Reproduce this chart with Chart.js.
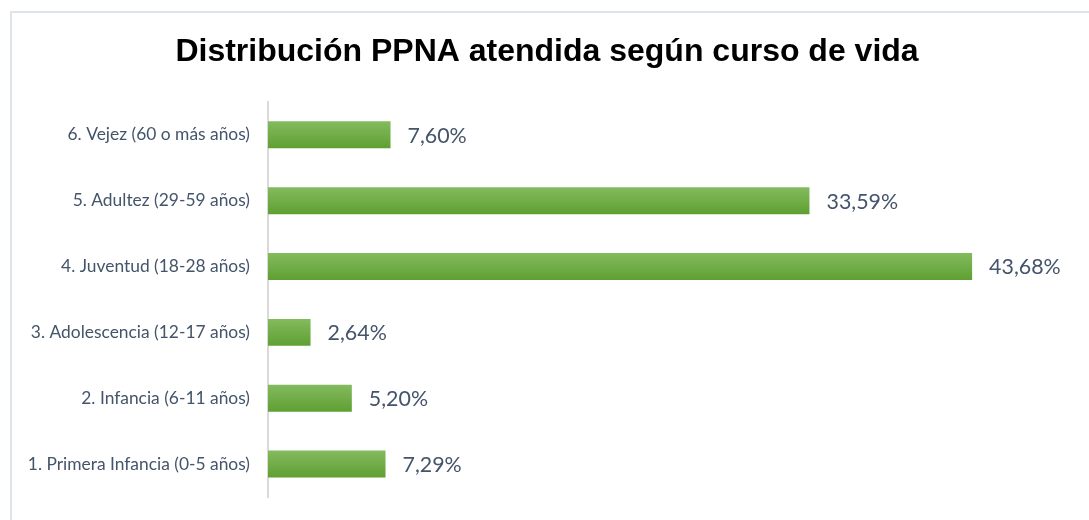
<!DOCTYPE html>
<html>
<head>
<meta charset="utf-8">
<script src="https://cdn.jsdelivr.net/npm/chart.js@4/dist/chart.umd.min.js"></script>
<style>
  body { margin: 0; background: #fff; overflow: hidden; }
  #frame { position: absolute; left: 10px; top: 11px; width: 1200px; height: 600px; border-top: 2px solid #dfe4ea; border-left: 2px solid #dfe4ea; }
  #wrap { position: absolute; left: 0; top: 0; width: 1089px; height: 520px; }
</style>
</head>
<body>
<div id="frame"></div>
<div id="wrap"><canvas id="chart" width="1089" height="520"></canvas></div>
<script>
// categories, top to bottom
const categories = [
  '6. Vejez (60 o más años)',
  '5. Adultez (29-59 años)',
  '4. Juventud (18-28 años)',
  '3. Adolescencia (12-17 años)',
  '2. Infancia (6-11 años)',
  '1. Primera Infancia (0-5 años)'
];
const percentages = [7.60, 33.59, 43.68, 2.64, 5.20, 7.29];
const titleText = 'Distribución PPNA atendida según curso de vida';

const labelColor = '#44546a';

// bar gradient, light on top, darker at the bottom
const barFill = (ctx) => {
  const chart = ctx.chart;
  const yScale = chart.scales.y;
  if (!chart.chartArea || !yScale || ctx.dataIndex === undefined) return '#70ad47';
  const y = yScale.getPixelForValue(ctx.dataIndex);
  const g = chart.ctx.createLinearGradient(0, y - 14, 0, y + 14);
  g.addColorStop(0, '#84bb5f');
  g.addColorStop(1, '#5e9f31');
  return g;
};

// value labels to the right of each bar
const valueLabels = {
  id: 'valueLabels',
  afterDatasetsDraw(chart) {
    const c = chart.ctx;
    const meta = chart.getDatasetMeta(0);
    c.save();
    c.font = '21.4px Lato, "Open Sans", sans-serif';
    c.fillStyle = labelColor;
    c.textBaseline = 'middle';
    c.textAlign = 'left';
    meta.data.forEach((bar, i) => {
      const txt = percentages[i].toFixed(2).replace('.', ',') + '%';
      c.fillText(txt, bar.x + 17, bar.y + 1);
    });
    c.restore();
  }
};

new Chart(document.getElementById('chart'), {
  type: 'bar',
  data: {
    labels: categories,
    datasets: [{
      data: percentages,
      backgroundColor: barFill,
      borderWidth: 0,
      barPercentage: 0.41,
      categoryPercentage: 1
    }]
  },
  options: {
    indexAxis: 'y',
    responsive: false,
    animation: false,
    layout: { padding: { left: 20, right: 15, top: 0, bottom: 23 } },
    plugins: {
      legend: { display: false },
      tooltip: { enabled: false },
      title: {
        display: true,
        text: titleText,
        color: '#000',
        font: { family: '"Liberation Sans", Arial, sans-serif', size: 32, weight: 'bold', lineHeight: 1.2 },
        padding: { top: 33, bottom: 30.5 }
      }
    },
    scales: {
      x: {
        display: false,
        min: 0,
        max: 50
      },
      y: {
        grid: { display: false, drawTicks: false },
        border: { display: true, color: '#d9d9d9', width: 2 },
        ticks: {
          color: labelColor,
          font: { family: 'Lato, "Open Sans", sans-serif', size: 17.4 },
          padding: 18
        },
        afterFit(scale) {
          scale.width = 248;
          scale.paddingTop = 0;
          scale.paddingBottom = 0;
        }
      }
    }
  },
  plugins: [valueLabels]
});
</script>
</body>
</html>
